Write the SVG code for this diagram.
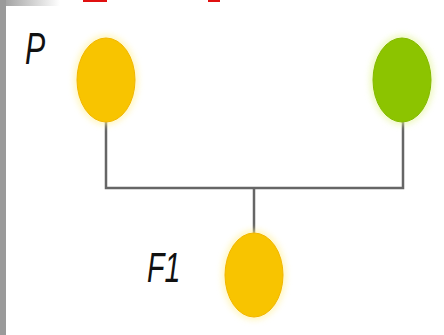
<svg xmlns="http://www.w3.org/2000/svg" width="444" height="335" viewBox="0 0 444 335">
  <defs>
    <linearGradient id="topband" x1="0" y1="0" x2="1" y2="0">
      <stop offset="0" stop-color="#9a9a9a"/>
      <stop offset="1" stop-color="#ffffff"/>
    </linearGradient>
    <filter id="glow" x="-50%" y="-50%" width="200%" height="200%">
      <feGaussianBlur stdDeviation="3"/>
    </filter>
    <style>
      .lbl { font-family: "Liberation Sans", Arial, sans-serif; font-style: italic; font-size: 42px; fill: #111; }
      .wire { fill: none; stroke: #666; stroke-width: 2.5; }
      .yellow { fill: #F8C400; stroke: #F2B600; stroke-width: 1; }
      .green { fill: #8CC400; stroke: #84BA00; stroke-width: 1; }
      .halo-y { fill: #FFF2A0; opacity: 0.7; filter: url(#glow); }
      .halo-g { fill: #E6F5A0; opacity: 0.7; filter: url(#glow); }
    </style>
  </defs>
  <rect x="0" y="0" width="444" height="335" fill="#ffffff"/>
  <rect x="0" y="0" width="60" height="6" fill="url(#topband)"/>
  <rect x="0" y="0" width="6" height="335" fill="#9a9a9a"/>
  <rect x="83" y="0" width="24" height="2" fill="#e01010"/>
  <rect x="208" y="0" width="12" height="2" fill="#e01010"/>

  <g id="connectors">
    <polyline class="wire" points="106,120 106,188 403,188 403,120"/>
    <line class="wire" x1="254" y1="188" x2="254" y2="234"/>
  </g>

  <g id="node-p">
    <ellipse class="halo-y" cx="106" cy="80" rx="32" ry="45"/>
    <ellipse class="yellow" cx="106" cy="80" rx="29" ry="42"/>
  </g>
  <g id="node-green">
    <ellipse class="halo-g" cx="402" cy="80" rx="32" ry="45"/>
    <ellipse class="green" cx="402" cy="80" rx="29" ry="42"/>
  </g>
  <g id="node-f1">
    <ellipse class="halo-y" cx="254" cy="275" rx="32" ry="45"/>
    <ellipse class="yellow" cx="254" cy="275" rx="29" ry="42"/>
  </g>

  <g id="labels">
    <text class="lbl" transform="translate(25,64) scale(0.72,1.05)">P</text>
    <text class="lbl" transform="translate(147,282) scale(0.68,1)">F1</text>
  </g>
</svg>
